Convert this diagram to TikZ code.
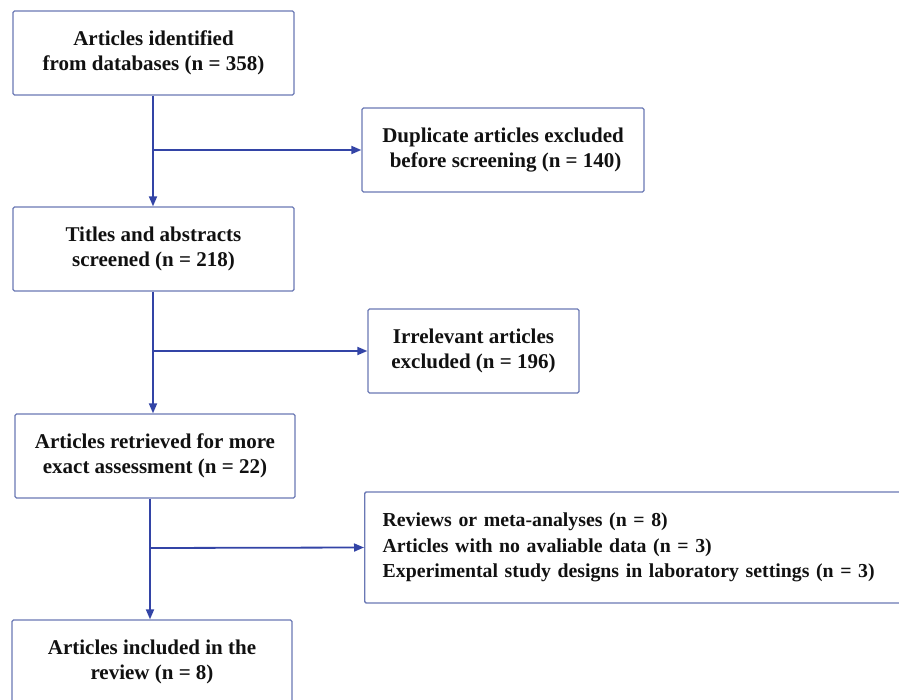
\documentclass[tikz,border=0pt]{standalone}
\usepackage{fontspec}
\setmainfont{Liberation Serif}
\usetikzlibrary{arrows.meta}
\definecolor{boxc}{HTML}{6A78B4}
\definecolor{linec}{HTML}{3344A6}
\definecolor{txt}{HTML}{111111}
\tikzset{
  box/.style={draw=boxc, line width=1.3pt, rounded corners=1.5pt, align=center,
    text=txt, font=\fontsize{21}{25}\selectfont\bfseries, inner sep=0pt},
  arr/.style={draw=linec, line width=1.8pt, -{Triangle[length=10pt,width=8pt]}}
}
\begin{document}
\begin{tikzpicture}[x=1pt,y=-1pt]
\useasboundingbox (0,0) rectangle (899,700);
\clip (0,0) rectangle (899,700);
\node[box, minimum width=281pt, minimum height=84pt] (b1) at (153.5,53) {Articles identified\\from databases (n = 358)};
\node[box, minimum width=282pt, minimum height=84pt] (b2) at (503,150) {Duplicate articles excluded\\\ before screening (n = 140)};
\node[box, minimum width=281pt, minimum height=84pt] (b3) at (153.5,249) {Titles and abstracts\\screened (n = 218)};
\node[box, minimum width=211pt, minimum height=84pt] (b4) at (473.5,351) {Irrelevant articles\\excluded (n = 196)};
\node[box, minimum width=280pt, minimum height=84pt] (b5) at (155,456) {Articles retrieved for more\\exact assessment (n = 22)};
\node[box, minimum width=280pt, minimum height=84pt] (b6) at (152,662) {Articles included in the\\review (n = 8)};
\node[box, minimum height=111pt, align=left, inner xsep=18pt, text width=540pt, anchor=west,
  font=\fontsize{19.8}{25.5}\selectfont\bfseries] (b7) at (364,547.5)
  {Reviews or meta-analyses (n = 8)\\Articles with no avaliable data (n = 3)\\Experimental study designs in laboratory settings (n = 3)};
\coordinate (j1) at (153,150);
\coordinate (j2) at (153,351);
\coordinate (j3) at (150,548);
\draw[arr] (b1.south -| j1) -- (b3.north -| j1);
\draw[arr] (j1) -- (b2.west);
\draw[arr] (b3.south -| j2) -- (b5.north -| j2);
\draw[arr] (j2) -- (b4.west);
\draw[arr] (b5.south -| j3) -- (b6.north -| j3);
\draw[arr] (j3) -- (b7.west);
\end{tikzpicture}
\end{document}
